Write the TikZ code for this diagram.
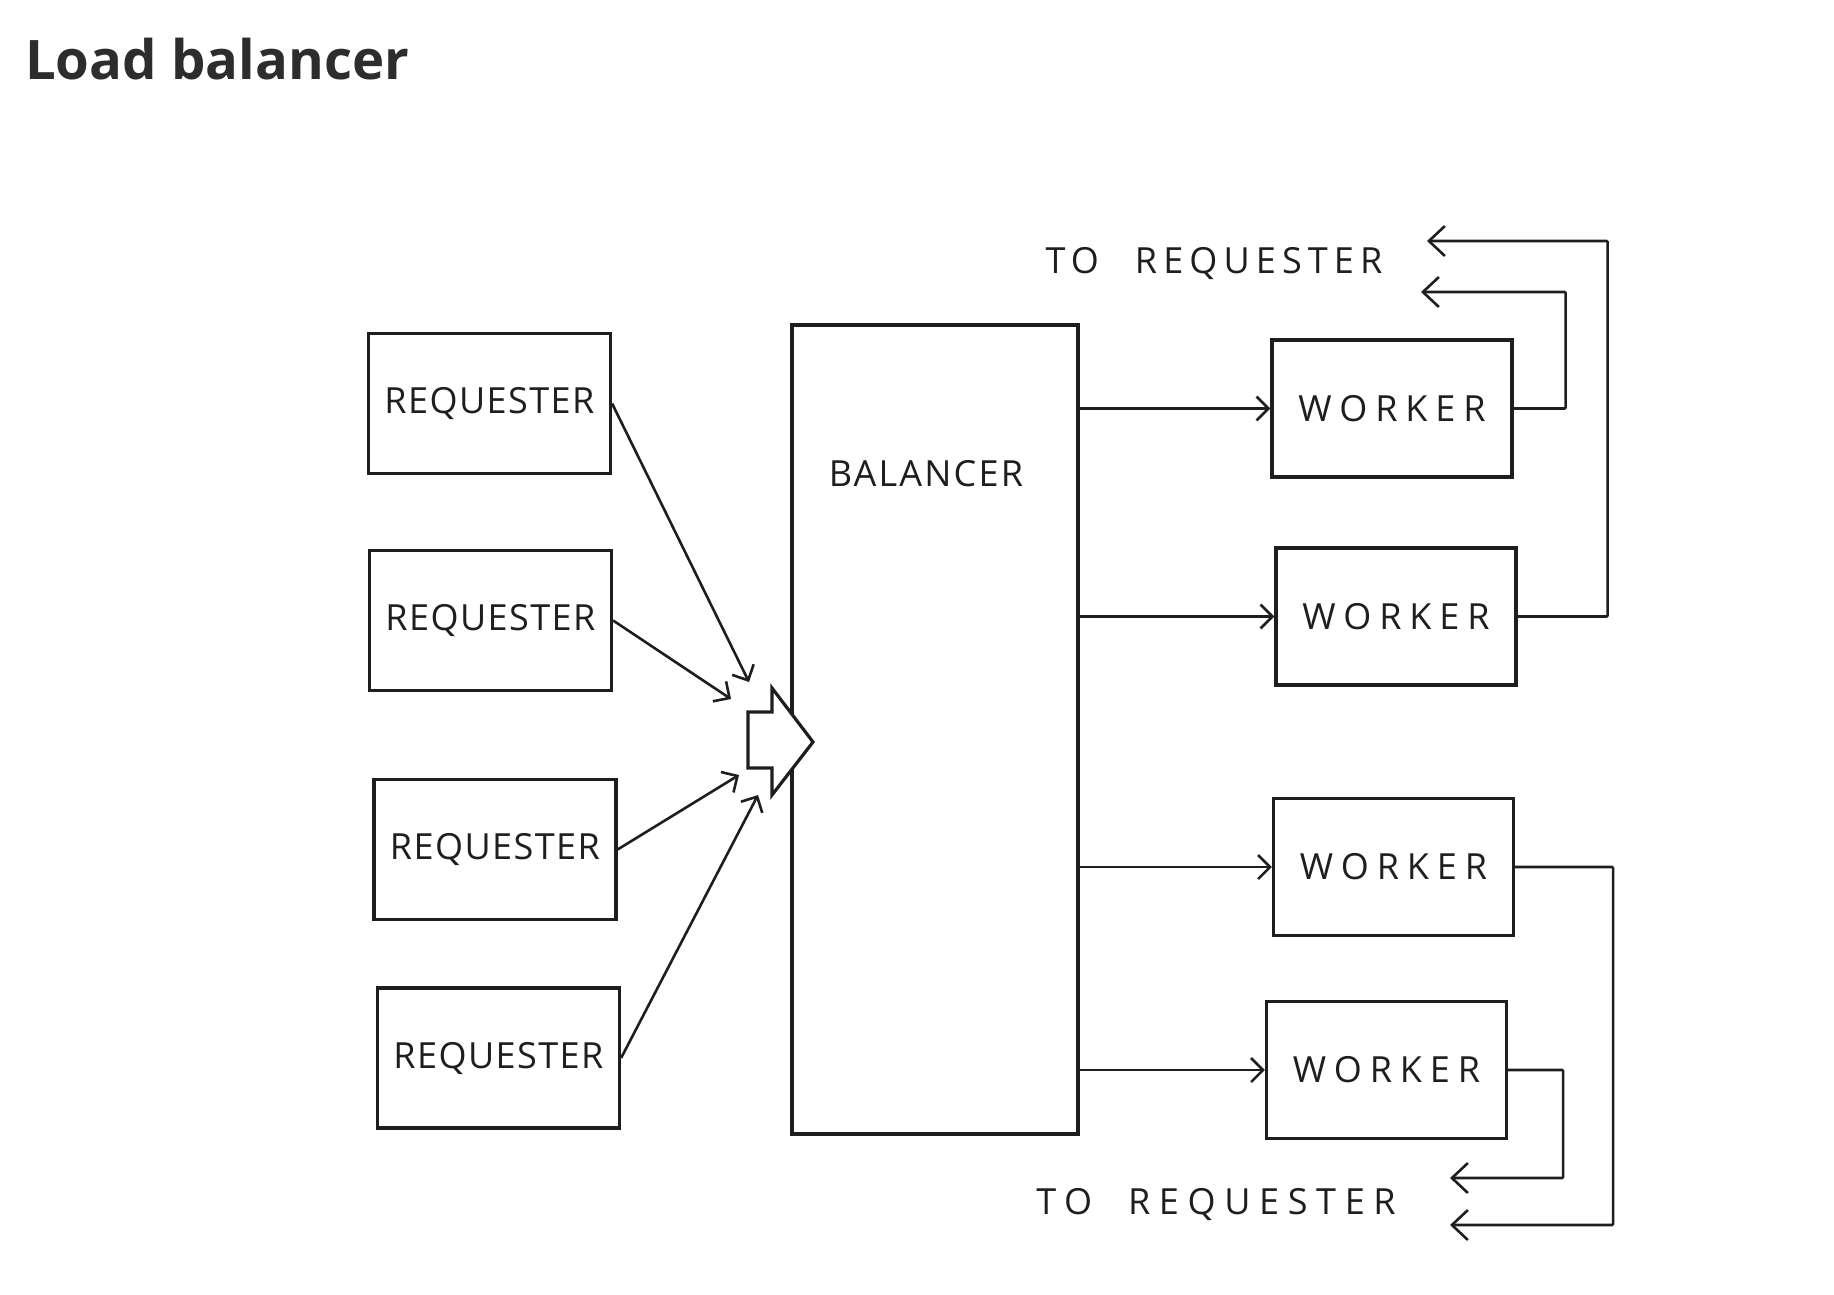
\documentclass[tikz,border=0pt]{standalone}
\usepackage{fontspec}
\setmainfont{Open Sans}
\newfontfamily\handreq{Open Sans}[LetterSpace=4]
\newfontfamily\handbal{Open Sans}[LetterSpace=6]
\newfontfamily\handwide{Open Sans}[LetterSpace=22]
\newfontfamily\handret{Open Sans}[LetterSpace=17]
\newfontfamily\handretb{Open Sans}[LetterSpace=24]
\usepackage{xcolor}
\usepackage{tikz}
\usetikzlibrary{arrows.meta,positioning,calc}
\definecolor{Ink}{HTML}{1E1E1E}
\definecolor{TitleInk}{HTML}{2D2D2D}

\begin{document}
\begin{tikzpicture}[
  x=1pt, y=-1pt,
  every node/.style={font=\fontsize{36}{40}\selectfont, text=Ink},
  rq/.style={rectangle, draw=Ink, line width=3.2pt, fill=white,
             minimum width=242pt, minimum height=140pt, inner sep=0pt,
             font=\handreq\fontsize{36}{40}\selectfont},
  wk/.style={rectangle, draw=Ink, line width=3.2pt, fill=white,
             minimum width=240pt, minimum height=137pt, inner sep=0pt,
             font=\handwide\fontsize{36}{40}\selectfont},
  bl/.style={rectangle, draw=Ink, line width=3.2pt, fill=white,
             minimum width=286pt, minimum height=809pt, inner sep=0pt},
  arr/.style={-{Straight Barb[length=12pt,width=24pt,line width=2.6pt]},
              line width=2.6pt, draw=Ink},
  rarr/.style={-{Straight Barb[length=16pt,width=30pt,line width=2.6pt]},
               line width=2.6pt, draw=Ink, rounded corners=1pt},
]
\useasboundingbox (0,0) rectangle (1834,1294);

%% ─ Title ────────────────────────────────────────────────────────────────────
\node[anchor=base west, inner sep=0pt, text=TitleInk,
      font=\bfseries\fontsize{54.5}{60}\selectfont] (ttl) at (25,79) {Load balancer};

%% ─ Requesters ───────────────────────────────────────────────────────────────
\node[rq] (req1) at (489.5, 403.5) {REQUESTER};
\node[rq] (req2) at (490.5, 620.5) {REQUESTER};
\node[rq] (req3) at (495.0, 849.5) {REQUESTER};
\node[rq] (req4) at (498.5,1058.0) {REQUESTER};

%% ─ Balancer ─────────────────────────────────────────────────────────────────
\node[bl] (bal) at (935, 729.5) {};
\node[font=\handbal\fontsize{36}{40}\selectfont] (baltxt) at (926, 474) {BALANCER};

%% ─ Workers ──────────────────────────────────────────────────────────────────
\node[wk] (wk1) at (1392.0, 408.5) {WORKER};
\node[wk] (wk2) at (1396.0, 616.5) {WORKER};
\node[wk] (wk3) at (1393.5, 867.0) {WORKER};
\node[wk] (wk4) at (1386.5,1070.0) {WORKER};

%% ─ Inlet arrow (hollow) ─────────────────────────────────────────────────────
\draw[line width=3.2pt, draw=Ink, fill=white, line join=miter]
  (748,712) -- (772,712) -- (772,688) -- (813,742) -- (772,795)
  -- (772,768) -- (748,768) -- cycle;
\coordinate (in1) at (749,682);
\coordinate (in2) at (731,699);
\coordinate (in3) at (739,775);
\coordinate (in4) at (758,795);

%% ─ Arrows: Requesters ───────────────────────────────────────────────────────
\draw[arr] (req1.east) -- (in1);
\draw[arr] (req2.east) -- (in2);
\draw[arr] (req3.east) -- (in3);
\draw[arr] (req4.east) -- (in4);

%% ─ Arrows: Balancer to workers ──────────────────────────────────────────────
\draw[arr] (bal.east |- wk1.west) -- (wk1.west);
\draw[arr] (bal.east |- wk2.west) -- (wk2.west);
\draw[arr] (bal.east |- wk3.west) -- (wk3.west);
\draw[arr] (bal.east |- wk4.west) -- (wk4.west);

%% ─ Return labels ────────────────────────────────────────────────────────────
\node[font=\handret\fontsize{36}{40}\selectfont]  (totop) at (1214, 263) {TO\quad REQUESTER};
\node[font=\handretb\fontsize{36}{40}\selectfont] (tobot) at (1216,1204) {TO\quad REQUESTER};

%% ─ Arrows: Back to requester ────────────────────────────────────────────────
\coordinate (ret1) at (1421, 292);
\coordinate (ret2) at (1427, 241);
\coordinate (ret3) at (1450,1225);
\coordinate (ret4) at (1450,1178);
\draw[rarr] (wk1.east) -- ++(52,0) |- (ret1);
\draw[rarr] (wk2.east) -- ++(90,0) |- (ret2);
\draw[rarr] (wk3.east) -- ++(98,0) |- (ret3);
\draw[rarr] (wk4.east) -- ++(55,0) |- (ret4);

\end{tikzpicture}
\end{document}
